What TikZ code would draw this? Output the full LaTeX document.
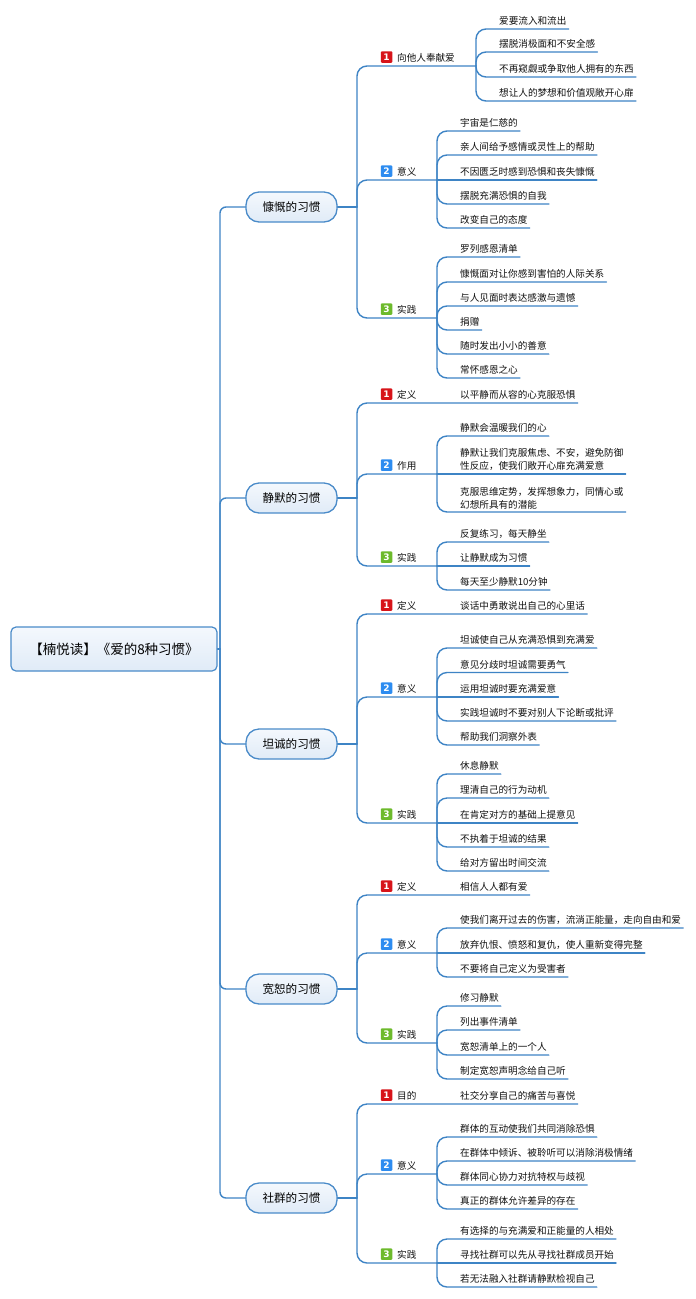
\documentclass[tikz,border=0pt]{standalone}
\usepackage{fontspec}
\setmainfont{Noto Sans CJK SC}
\newfontfamily\numfont{DejaVu Sans}
\usetikzlibrary{calc}
\definecolor{lnc}{HTML}{3E84C5}
\definecolor{nodeb}{HTML}{4A8BC9}
\definecolor{txt}{HTML}{111111}
\definecolor{icr}{HTML}{D7141A}
\definecolor{icb}{HTML}{2D8CF0}
\definecolor{icg}{HTML}{6DBA2C}
\definecolor{topc}{HTML}{F4F8FD}
\definecolor{botc}{HTML}{E0EBF7}
\tikzset{
  conn/.style={draw=lnc, line width=1.4pt, line cap=round},
  lf/.style={anchor=south west, inner xsep=2pt, inner ysep=2.5pt, font=\fontsize{9.6}{13}\selectfont, text=txt},
  leaf/.style={lf, text height=7.5pt, text depth=1.5pt},
  leaftwo/.style={lf, align=left, inner ysep=3pt},
  ico/.style={minimum size=11.5pt, inner sep=0pt, rounded corners=1pt, text=white, font=\numfont\bfseries\fontsize{9}{9}\selectfont},
  mainnode/.style={draw=nodeb, line width=1.3pt, rounded corners=13pt, minimum width=91pt, minimum height=30pt, inner sep=0pt, top color=topc, bottom color=botc, font=\fontsize{11.6}{13}\selectfont, text=black},
  rootnode/.style={draw=nodeb, line width=1.2pt, rounded corners=5pt, minimum width=206pt, minimum height=44pt, inner sep=0pt, top color=topc, bottom color=botc, font=\fontsize{13.5}{15}\selectfont, text=black}
}
\newcommand\lk[3][10]{\draw[conn] let \p1=(#2), \p2=(#3), \n1={min(#1,abs(\y2-\y1))} in [rounded corners=\n1] (#2) |- (#3);}
\newcommand\sk[2]{\draw[conn] (#1) -- (#2);}
\begin{document}
\begin{tikzpicture}[x=1pt,y=-1pt]
\fill[white] (0,0) rectangle (696,1299);
\useasboundingbox (0,0) rectangle (696,1299);

% root and main nodes
\node[rootnode] (root) at (114,649) {【楠悦读】《爱的8种习惯》};
\coordinate (tr) at (220,649);
\node[mainnode] (m1) at (291.5,207) {慷慨的习惯};
\node[mainnode] (m2) at (291.5,498) {静默的习惯};
\node[mainnode] (m3) at (291.5,744) {坦诚的习惯};
\node[mainnode] (m4) at (291.5,989) {宽恕的习惯};
\node[mainnode] (m5) at (291.5,1198) {社群的习惯};
\coordinate (j1) at (357,207);
\coordinate (j2) at (357,498);
\coordinate (j3) at (357,744);
\coordinate (j4) at (357,989);
\coordinate (j5) at (357,1198);

\sk{root.east}{tr}
\lk[6]{tr}{m1.west}
\lk[6]{tr}{m2.west}
\lk[6]{tr}{m3.west}
\lk[6]{tr}{m4.west}
\lk[6]{tr}{m5.west}
\sk{m1.east}{j1}
\sk{m2.east}{j2}
\sk{m3.east}{j3}
\sk{m4.east}{j4}
\sk{m5.east}{j5}

% ===== 慷慨 =====
\coordinate (g11) at (476,66);
\coordinate (g12) at (437,180);
\coordinate (g13) at (437,318);
\lk{j1}{g11}
\lk{j1}{g12}
\lk{j1}{g13}
\node[leaf] (l11) at (395,66) {向他人奉献爱};
\node[ico, fill=icr] (n11) at (386.5,57) {1};
\node[leaf] (l12) at (395,180) {意义};
\node[ico, fill=icb] (n12) at (386.5,171) {2};
\node[leaf] (l13) at (395,318) {实践};
\node[ico, fill=icg] (n13) at (386.5,309) {3};

\node[leaf] (c111) at (497,29) {爱要流入和流出};
\node[leaf] (c112) at (497,52) {摆脱消极面和不安全感};
\node[leaf] (c113) at (497,77) {不再窥觑或争取他人拥有的东西};
\node[leaf] (c114) at (497,101) {想让人的梦想和价值观敞开心扉};
\lk{g11}{c111.south east}
\lk{g11}{c112.south east}
\lk{g11}{c113.south east}
\lk{g11}{c114.south east}

\node[leaf] (c121) at (458,131) {宇宙是仁慈的};
\node[leaf] (c122) at (458,155) {亲人间给予感情或灵性上的帮助};
\node[leaf] (c123) at (458,180) {不因匮乏时感到恐惧和丧失慷慨};
\node[leaf] (c124) at (458,204) {摆脱充满恐惧的自我};
\node[leaf] (c125) at (458,228) {改变自己的态度};
\lk{g12}{c121.south east}
\lk{g12}{c122.south east}
\sk{g12}{c123.south east}
\lk{g12}{c124.south east}
\lk{g12}{c125.south east}

\node[leaf] (c131) at (458,257) {罗列感恩清单};
\node[leaf] (c132) at (458,282) {慷慨面对让你感到害怕的人际关系};
\node[leaf] (c133) at (458,306) {与人见面时表达感激与遗憾};
\node[leaf] (c134) at (458,330) {捐赠};
\node[leaf] (c135) at (458,354) {随时发出小小的善意};
\node[leaf] (c136) at (458,378) {常怀感恩之心};
\lk{g13}{c131.south east}
\lk{g13}{c132.south east}
\lk{g13}{c133.south east}
\lk{g13}{c134.south east}
\lk{g13}{c135.south east}
\lk{g13}{c136.south east}

% ===== 静默 =====
\coordinate (g22) at (437,474);
\coordinate (g23) at (437,566);
\node[leaf] (c211) at (458,403) {以平静而从容的心克服恐惧};
\lk{j2}{c211.south east}
\lk{j2}{g22}
\lk{j2}{g23}
\node[leaf] (l21) at (395,403) {定义};
\node[ico, fill=icr] (n21) at (386.5,394) {1};
\node[leaf] (l22) at (395,474) {作用};
\node[ico, fill=icb] (n22) at (386.5,465) {2};
\node[leaf] (l23) at (395,566) {实践};
\node[ico, fill=icg] (n23) at (386.5,557) {3};

\node[leaf] (c221) at (458,436) {静默会温暖我们的心};
\node[leaftwo] (c222) at (458,474) {静默让我们克服焦虑、不安，避免防御\\性反应，使我们敞开心扉充满爱意};
\node[leaftwo] (c223) at (458,512) {克服思维定势，发挥想象力，同情心或\\幻想所具有的潜能};
\lk{g22}{c221.south east}
\sk{g22}{c222.south east}
\lk{g22}{c223.south east}

\node[leaf] (c231) at (458,542) {反复练习，每天静坐};
\node[leaf] (c232) at (458,566) {让静默成为习惯};
\node[leaf] (c233) at (458,590) {每天至少静默10分钟};
\lk{g23}{c231.south east}
\sk{g23}{c232.south east}
\lk{g23}{c233.south east}

% ===== 坦诚 =====
\coordinate (g32) at (437,697);
\coordinate (g33) at (437,823);
\node[leaf] (c311) at (458,614) {谈话中勇敢说出自己的心里话};
\lk{j3}{c311.south east}
\lk{j3}{g32}
\lk{j3}{g33}
\node[leaf] (l31) at (395,614) {定义};
\node[ico, fill=icr] (n31) at (386.5,605) {1};
\node[leaf] (l32) at (395,697) {意义};
\node[ico, fill=icb] (n32) at (386.5,688) {2};
\node[leaf] (l33) at (395,823) {实践};
\node[ico, fill=icg] (n33) at (386.5,814) {3};

\node[leaf] (c321) at (458,648) {坦诚使自己从充满恐惧到充满爱};
\node[leaf] (c322) at (458,672.5) {意见分歧时坦诚需要勇气};
\node[leaf] (c323) at (458,697) {运用坦诚时要充满爱意};
\node[leaf] (c324) at (458,721) {实践坦诚时不要对别人下论断或批评};
\node[leaf] (c325) at (458,745) {帮助我们洞察外表};
\lk{g32}{c321.south east}
\lk{g32}{c322.south east}
\sk{g32}{c323.south east}
\lk{g32}{c324.south east}
\lk{g32}{c325.south east}

\node[leaf] (c331) at (458,774) {休息静默};
\node[leaf] (c332) at (458,798) {理清自己的行为动机};
\node[leaf] (c333) at (458,823) {在肯定对方的基础上提意见};
\node[leaf] (c334) at (458,847) {不执着于坦诚的结果};
\node[leaf] (c335) at (458,871) {给对方留出时间交流};
\lk{g33}{c331.south east}
\lk{g33}{c332.south east}
\sk{g33}{c333.south east}
\lk{g33}{c334.south east}
\lk{g33}{c335.south east}

% ===== 宽恕 =====
\coordinate (g42) at (437,953);
\coordinate (g43) at (437,1043);
\node[leaf] (c411) at (458,895) {相信人人都有爱};
\lk{j4}{c411.south east}
\lk{j4}{g42}
\lk{j4}{g43}
\node[leaf] (l41) at (395,895) {定义};
\node[ico, fill=icr] (n41) at (386.5,886) {1};
\node[leaf] (l42) at (395,953) {意义};
\node[ico, fill=icb] (n42) at (386.5,944) {2};
\node[leaf] (l43) at (395,1043) {实践};
\node[ico, fill=icg] (n43) at (386.5,1034) {3};

\node[leaf] (c421) at (458,928) {使我们离开过去的伤害，流淌正能量，走向自由和爱};
\node[leaf] (c422) at (458,953) {放弃仇恨、愤怒和复仇，使人重新变得完整};
\node[leaf] (c423) at (458,977) {不要将自己定义为受害者};
\lk{g42}{c421.south east}
\sk{g42}{c422.south east}
\lk{g42}{c423.south east}

\node[leaf] (c431) at (458,1006) {修习静默};
\node[leaf] (c432) at (458,1030) {列出事件清单};
\node[leaf] (c433) at (458,1055) {宽恕清单上的一个人};
\node[leaf] (c434) at (458,1079) {制定宽恕声明念给自己听};
\lk{g43}{c431.south east}
\lk{g43}{c432.south east}
\lk{g43}{c433.south east}
\lk{g43}{c434.south east}

% ===== 社群 =====
\coordinate (g52) at (437,1174);
\coordinate (g53) at (437,1263);
\node[leaf] (c511) at (458,1104) {社交分享自己的痛苦与喜悦};
\lk{j5}{c511.south east}
\lk{j5}{g52}
\lk{j5}{g53}
\node[leaf] (l51) at (395,1104) {目的};
\node[ico, fill=icr] (n51) at (386.5,1095) {1};
\node[leaf] (l52) at (395,1174) {意义};
\node[ico, fill=icb] (n52) at (386.5,1165) {2};
\node[leaf] (l53) at (395,1263) {实践};
\node[ico, fill=icg] (n53) at (386.5,1254) {3};

\node[leaf] (c521) at (458,1137) {群体的互动使我们共同消除恐惧};
\node[leaf] (c522) at (458,1161) {在群体中倾诉、被聆听可以消除消极情绪};
\node[leaf] (c523) at (458,1185) {群体同心协力对抗特权与歧视};
\node[leaf] (c524) at (458,1209) {真正的群体允许差异的存在};
\lk{g52}{c521.south east}
\lk{g52}{c522.south east}
\lk{g52}{c523.south east}
\lk{g52}{c524.south east}

\node[leaf] (c531) at (458,1239) {有选择的与充满爱和正能量的人相处};
\node[leaf] (c532) at (458,1263) {寻找社群可以先从寻找社群成员开始};
\node[leaf] (c533) at (458,1287) {若无法融入社群请静默检视自己};
\lk{g53}{c531.south east}
\sk{g53}{c532.south east}
\lk{g53}{c533.south east}
\end{tikzpicture}
\end{document}
